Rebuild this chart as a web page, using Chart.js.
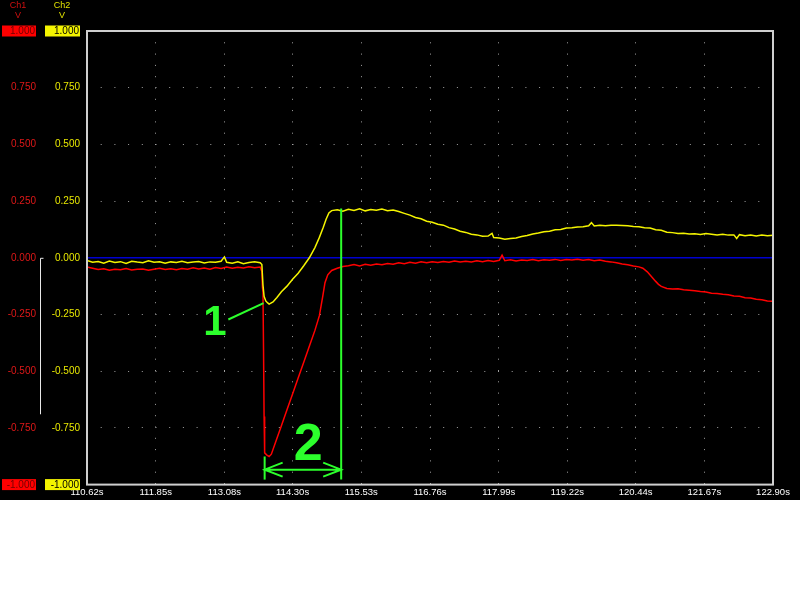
<!DOCTYPE html>
<html>
<head>
<meta charset="utf-8">
<title>Ch1 / Ch2 capture</title>
<script src="https://cdn.jsdelivr.net/npm/chart.js@4.4.1/dist/chart.umd.min.js"></script>
<style>
  html, body { margin: 0; padding: 0; background: #fff; }
  #scope { width: 800px; height: 500px; background: #000; }
</style>
</head>
<body>
<div id="scope"><canvas id="scopeChart" width="800" height="500"></canvas></div>
<script>
// ============================================================
// Data (time in s, volts)
// ============================================================

const timeTicks = [110.62, 111.85, 113.08, 114.30, 115.53, 116.76, 117.99, 119.22, 120.44, 121.67, 122.90];
const voltTicks = [-1, -0.75, -0.5, -0.25, 0, 0.25, 0.5, 0.75, 1];

// Ch1 - red trace
const ch1Trace = [
  [110.62,-0.040],[110.72,-0.046],[110.82,-0.052],[110.92,-0.048],[111.02,-0.055],[111.12,-0.050],
  [111.22,-0.053],[111.32,-0.047],[111.42,-0.054],[111.52,-0.051],[111.62,-0.049],[111.72,-0.055],
  [111.82,-0.050],[111.92,-0.046],[112.02,-0.052],[112.12,-0.048],[112.22,-0.053],[112.32,-0.047],
  [112.42,-0.050],[112.52,-0.044],[112.62,-0.049],[112.72,-0.045],[112.82,-0.050],[112.92,-0.043],
  [113.02,-0.047],[113.12,-0.041],[113.22,-0.046],[113.32,-0.042],[113.42,-0.045],[113.52,-0.040],
  [113.62,-0.044],[113.72,-0.041],[113.75,-0.060],[113.76,-0.130],[113.77,-0.150],[113.78,-0.400],
  [113.79,-0.700],[113.80,-0.860],[113.84,-0.870],[113.88,-0.876],[113.92,-0.866],[114.00,-0.810],
  [114.10,-0.740],[114.20,-0.670],[114.30,-0.600],[114.40,-0.530],[114.50,-0.460],[114.60,-0.390],
  [114.70,-0.320],[114.78,-0.255],[114.84,-0.170],[114.88,-0.110],[114.93,-0.075],[115.00,-0.056],
  [115.10,-0.046],[115.20,-0.038],[115.30,-0.035],[115.40,-0.030],[115.50,-0.036],[115.60,-0.029],
  [115.70,-0.033],[115.80,-0.027],[115.90,-0.031],[116.00,-0.025],[116.10,-0.028],[116.20,-0.022],
  [116.30,-0.026],[116.40,-0.020],[116.50,-0.024],[116.60,-0.018],[116.70,-0.022],[116.80,-0.017],
  [116.90,-0.021],[117.00,-0.016],[117.10,-0.020],[117.20,-0.014],[117.30,-0.019],[117.40,-0.015],
  [117.50,-0.018],[117.60,-0.013],[117.70,-0.017],[117.80,-0.012],[117.90,-0.016],[118.00,-0.011],
  [118.05,0.012],[118.10,-0.013],[118.20,-0.009],[118.30,-0.014],[118.40,-0.010],[118.50,-0.012],
  [118.60,-0.008],[118.70,-0.013],[118.80,-0.009],[118.90,-0.011],[119.00,-0.007],[119.10,-0.012],
  [119.20,-0.008],[119.30,-0.010],[119.40,-0.006],[119.50,-0.011],[119.60,-0.008],[119.70,-0.013],
  [119.80,-0.010],[119.90,-0.015],[120.00,-0.018],[120.10,-0.022],[120.20,-0.027],[120.30,-0.031],
  [120.40,-0.036],[120.50,-0.040],[120.57,-0.046],[120.65,-0.062],[120.70,-0.076],[120.75,-0.090],
  [120.80,-0.104],[120.85,-0.117],[120.90,-0.126],[121.00,-0.135],[121.10,-0.138],[121.20,-0.136],
  [121.30,-0.141],[121.40,-0.143],[121.50,-0.145],[121.60,-0.149],[121.70,-0.151],[121.80,-0.156],
  [121.90,-0.157],[122.00,-0.161],[122.10,-0.163],[122.20,-0.168],[122.30,-0.170],[122.40,-0.176],
  [122.50,-0.177],[122.60,-0.183],[122.70,-0.185],[122.80,-0.190],[122.90,-0.192]
];

// Ch2 - yellow trace
const ch2Trace = [
  [110.62,-0.012],[110.72,-0.020],[110.82,-0.016],[110.92,-0.024],[111.02,-0.014],[111.12,-0.021],
  [111.22,-0.017],[111.32,-0.025],[111.42,-0.015],[111.52,-0.019],[111.62,-0.022],[111.72,-0.013],
  [111.82,-0.020],[111.92,-0.017],[112.02,-0.024],[112.12,-0.018],[112.22,-0.021],[112.32,-0.015],
  [112.42,-0.022],[112.52,-0.019],[112.62,-0.016],[112.72,-0.023],[112.82,-0.018],[112.92,-0.020],
  [113.02,-0.015],[113.08,0.004],[113.12,-0.020],[113.22,-0.024],[113.32,-0.018],[113.42,-0.026],
  [113.52,-0.021],[113.62,-0.017],[113.72,-0.022],[113.75,-0.030],[113.77,-0.120],[113.79,-0.170],
  [113.82,-0.190],[113.85,-0.198],[113.88,-0.204],[113.95,-0.195],[114.02,-0.175],[114.10,-0.150],
  [114.20,-0.125],[114.30,-0.095],[114.40,-0.068],[114.50,-0.035],[114.60,0.000],[114.70,0.045],
  [114.78,0.090],[114.85,0.135],[114.90,0.170],[114.95,0.198],[115.00,0.208],[115.10,0.212],
  [115.20,0.205],[115.30,0.214],[115.40,0.209],[115.50,0.216],[115.60,0.207],[115.70,0.213],
  [115.80,0.210],[115.90,0.215],[116.00,0.208],[116.10,0.211],[116.20,0.204],[116.30,0.196],
  [116.40,0.188],[116.50,0.178],[116.60,0.172],[116.70,0.161],[116.80,0.157],[116.90,0.148],
  [117.00,0.144],[117.10,0.133],[117.20,0.127],[117.30,0.117],[117.40,0.112],[117.50,0.104],
  [117.60,0.101],[117.70,0.095],[117.80,0.096],[117.87,0.108],[117.90,0.089],[118.00,0.087],
  [118.10,0.082],[118.20,0.085],[118.30,0.087],[118.40,0.094],[118.50,0.098],[118.60,0.105],
  [118.70,0.109],[118.80,0.115],[118.90,0.117],[119.00,0.124],[119.10,0.125],[119.20,0.131],
  [119.30,0.132],[119.40,0.136],[119.50,0.137],[119.60,0.141],[119.65,0.155],[119.70,0.140],
  [119.80,0.144],[119.90,0.141],[120.00,0.144],[120.10,0.143],[120.20,0.142],[120.30,0.141],
  [120.40,0.138],[120.50,0.137],[120.60,0.133],[120.70,0.131],[120.80,0.124],[120.90,0.121],
  [121.00,0.113],[121.10,0.111],[121.20,0.107],[121.30,0.108],[121.40,0.105],[121.50,0.106],
  [121.60,0.103],[121.70,0.107],[121.80,0.104],[121.90,0.101],[122.00,0.104],[122.10,0.100],
  [122.20,0.101],[122.25,0.085],[122.30,0.102],[122.40,0.097],[122.50,0.101],[122.60,0.096],
  [122.70,0.100],[122.80,0.097],[122.90,0.100]
];

// zero reference
const zeroLine = [[timeTicks[0], 0], [timeTicks[timeTicks.length - 1], 0]];

// annotations (data units)
const cursorTime = 115.17;
const cursorRange = [0.217, -0.978];
const markTime = 113.80;
const markRange = [-0.876, -0.978];
const arrowLevel = -0.934;
const label1 = { t: 112.91, v: -0.29, text: '1' };
const label2 = { t: 114.58, v: -0.83, text: '2' };
const pointer1 = [[113.15, -0.272], [113.78, -0.200]];
const offsetMarker = [0, -0.69];

// ============================================================
// Styles
// ============================================================

const FONT = '"Liberation Sans", Arial, sans-serif';
const YELLOW = '#f4f400';
const GREEN = '#2cff2c';

const toPoints = arr => arr.map(p => ({ x: p[0], y: p[1] }));

// ============================================================
// Plugins
// ============================================================

const scopeBackground = {
  id: 'scopeBackground',
  beforeDraw(chart) {
    const ctx = chart.ctx;
    ctx.save();
    ctx.fillStyle = '#000';
    ctx.fillRect(0, 0, chart.width, chart.height);
    ctx.restore();
  }
};

const scopeAnnotations = {
  id: 'scopeAnnotations',
  afterDatasetsDraw(chart) {
    const { ctx, scales: { x, y } } = chart;
    ctx.save();
    ctx.strokeStyle = GREEN;
    ctx.fillStyle = GREEN;
    ctx.lineWidth = 2;

    // cursor line
    const cx = x.getPixelForValue(cursorTime);
    ctx.beginPath();
    ctx.moveTo(cx, y.getPixelForValue(cursorRange[0]));
    ctx.lineTo(cx, y.getPixelForValue(cursorRange[1]));
    ctx.stroke();

    // start mark
    const mx = x.getPixelForValue(markTime);
    ctx.beginPath();
    ctx.moveTo(mx, y.getPixelForValue(markRange[0]));
    ctx.lineTo(mx, y.getPixelForValue(markRange[1]));
    ctx.stroke();

    // double arrow
    const ay = y.getPixelForValue(arrowLevel);
    ctx.beginPath();
    ctx.moveTo(mx, ay);
    ctx.lineTo(cx, ay);
    ctx.moveTo(mx + 18, ay - 7);
    ctx.lineTo(mx, ay);
    ctx.lineTo(mx + 18, ay + 7);
    ctx.moveTo(cx - 18, ay - 7);
    ctx.lineTo(cx, ay);
    ctx.lineTo(cx - 18, ay + 7);
    ctx.stroke();

    // pointer for label 1
    ctx.beginPath();
    ctx.moveTo(x.getPixelForValue(pointer1[0][0]), y.getPixelForValue(pointer1[0][1]));
    ctx.lineTo(x.getPixelForValue(pointer1[1][0]), y.getPixelForValue(pointer1[1][1]));
    ctx.stroke();

    ctx.textAlign = 'center';
    ctx.textBaseline = 'middle';
    ctx.font = 'bold 42px ' + FONT;
    ctx.fillText(label1.text, x.getPixelForValue(label1.t), y.getPixelForValue(label1.v));
    ctx.font = 'bold 52px ' + FONT;
    ctx.fillText(label2.text, x.getPixelForValue(label2.t), y.getPixelForValue(label2.v));
    ctx.restore();
  }
};

const scopeFrame = {
  id: 'scopeFrame',
  afterDraw(chart) {
    const { ctx, chartArea: a, scales: { y } } = chart;
    ctx.save();

    // plot frame
    ctx.strokeStyle = '#cfcfcf';
    ctx.lineWidth = 2;
    ctx.strokeRect(a.left, a.top, a.right - a.left, a.bottom - a.top);

    // channel headers
    ctx.font = '9px ' + FONT;
    ctx.textAlign = 'center';
    ctx.textBaseline = 'middle';
    ctx.fillStyle = '#d01010';
    ctx.fillText('Ch1', 18, 6);
    ctx.fillText('V', 18, 16);
    ctx.fillStyle = '#e0e000';
    ctx.fillText('Ch2', 62, 6);
    ctx.fillText('V', 62, 16);

    // voltage labels for both channels
    ctx.font = '10px ' + FONT;
    ctx.textAlign = 'right';
    voltTicks.forEach(v => {
      const py = y.getPixelForValue(v);
      const txt = v.toFixed(3);
      if (Math.abs(v) === 1) {
        ctx.fillStyle = '#ff0000';
        ctx.fillRect(2, py - 5.5, 34, 11);
        ctx.fillStyle = YELLOW;
        ctx.fillRect(45, py - 5.5, 35, 11);
        ctx.fillStyle = '#700000';
        ctx.fillText(txt, 35, py + 0.5);
        ctx.fillStyle = '#000';
        ctx.fillText(txt, 79, py + 0.5);
      } else {
        ctx.fillStyle = '#e01818';
        ctx.fillText(txt, 36, py);
        ctx.fillStyle = '#e8e800';
        ctx.fillText(txt, 80, py);
      }
    });

    // ch1 offset marker
    const t0 = y.getPixelForValue(offsetMarker[0]);
    const t1 = y.getPixelForValue(offsetMarker[1]);
    ctx.strokeStyle = '#e8e8e8';
    ctx.lineWidth = 1;
    ctx.beginPath();
    ctx.moveTo(43.5, t0 + 0.5);
    ctx.lineTo(40.5, t0 + 0.5);
    ctx.lineTo(40.5, t1);
    ctx.stroke();
    ctx.restore();
  }
};

// ============================================================
// Chart
// ============================================================

const ctx = document.getElementById('scopeChart').getContext('2d');

const scopeChart = new Chart(ctx, {
  type: 'line',
  data: {
    datasets: [
      {
        label: 'Ch2',
        data: toPoints(ch2Trace),
        borderColor: YELLOW,
        borderWidth: 1.5,
        pointRadius: 0,
        tension: 0
      },
      {
        label: 'Ch1',
        data: toPoints(ch1Trace),
        borderColor: '#ff0000',
        borderWidth: 1.5,
        pointRadius: 0,
        tension: 0
      },
      {
        label: 'zero',
        data: toPoints(zeroLine),
        borderColor: '#0000d0',
        borderWidth: 1.5,
        pointRadius: 0
      }
    ]
  },
  options: {
    responsive: false,
    animation: false,
    devicePixelRatio: 1,
    layout: { padding: { left: 87, right: 27, top: 31, bottom: 0 } },
    plugins: {
      legend: { display: false },
      tooltip: { enabled: false }
    },
    scales: {
      x: {
        type: 'linear',
        min: timeTicks[0],
        max: timeTicks[timeTicks.length - 1],
        afterBuildTicks: axis => { axis.ticks = timeTicks.map(v => ({ value: v })); },
        ticks: {
          color: '#ffffff',
          font: { family: FONT, size: 9.5 },
          padding: 2,
          autoSkip: false,
          maxRotation: 0,
          callback: v => v.toFixed(2) + 's'
        },
        grid: { color: '#a0a0a0', lineWidth: 1, drawTicks: false },
        border: { display: false, dash: [1, 10.3] }
      },
      y: {
        type: 'linear',
        min: -1,
        max: 1,
        afterBuildTicks: axis => { axis.ticks = voltTicks.map(v => ({ value: v })); },
        ticks: { display: false },
        grid: { color: '#a0a0a0', lineWidth: 1, drawTicks: false },
        border: { display: false, dash: [1, 12.7] }
      }
    }
  },
  plugins: [scopeBackground, scopeAnnotations, scopeFrame]
});
</script>
</body>
</html>
